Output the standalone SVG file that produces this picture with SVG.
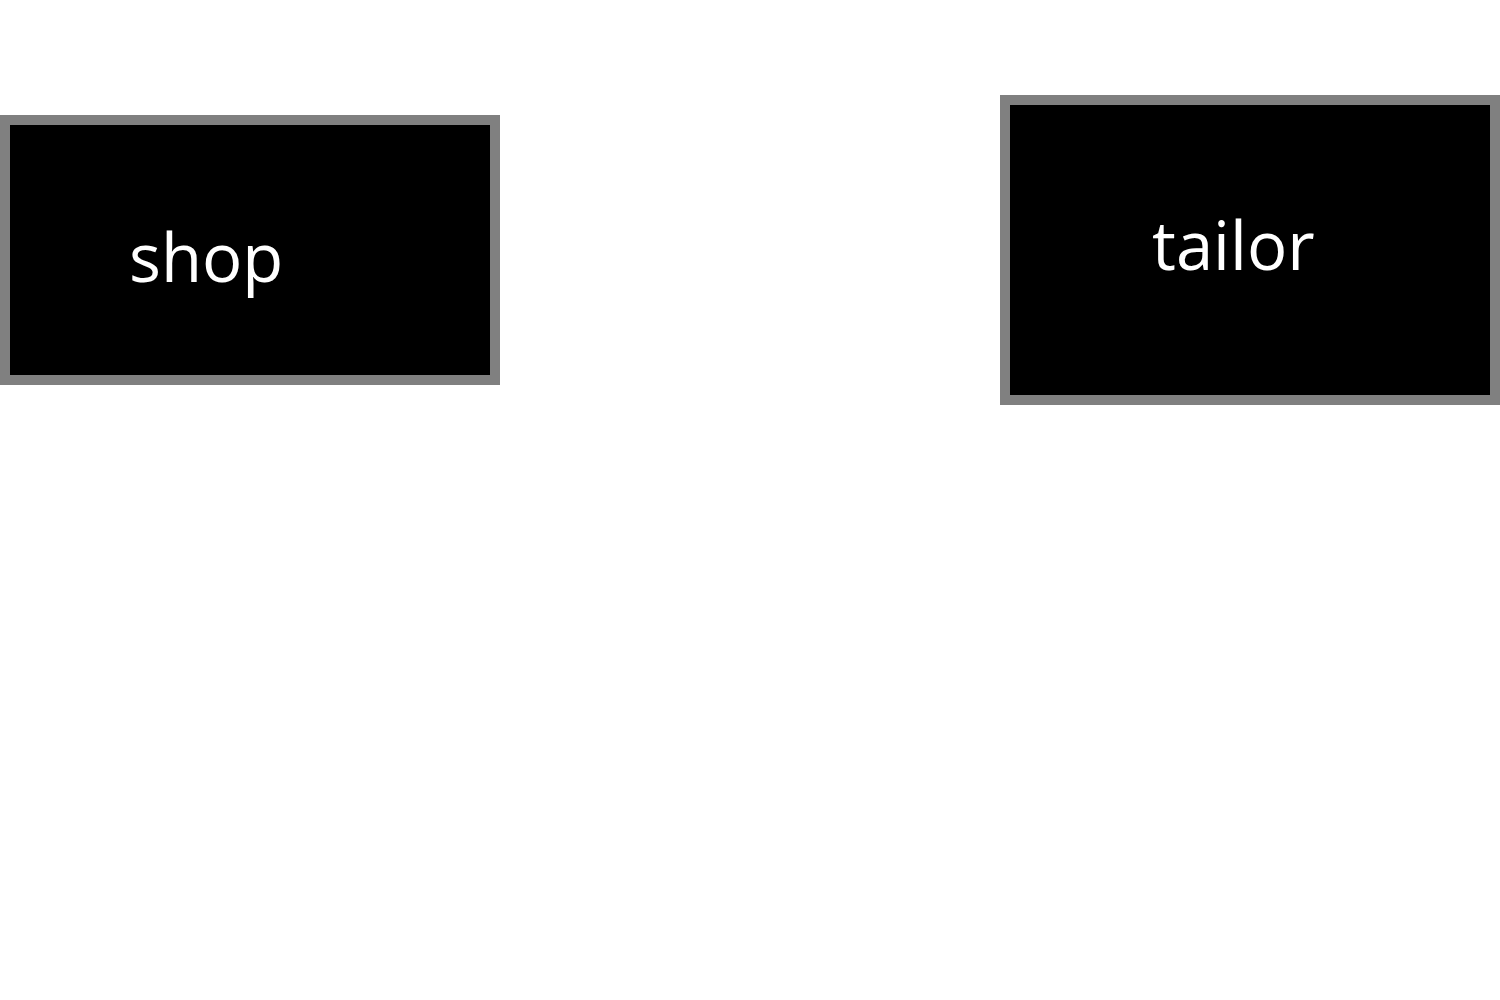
<svg xmlns="http://www.w3.org/2000/svg" width="1500" height="1000" viewBox="0 0 1500 1000">
<style>
.box{fill:#000;stroke:#808080;stroke-width:10}
.lbl{fill:#fff;font-family:"Open Sans",sans-serif;font-size:67px}
</style>
<rect width="1500" height="1000" fill="#fff"/>
<g id="connectors"></g>
<g id="shop">
<rect class="box" x="5" y="120" width="490" height="260"/>
<text class="lbl" x="129" y="282">shop</text>
</g>
<g id="tailor">
<rect class="box" x="1005" y="100" width="490" height="300"/>
<text class="lbl" x="1152" y="270">tailor</text>
</g>
</svg>
